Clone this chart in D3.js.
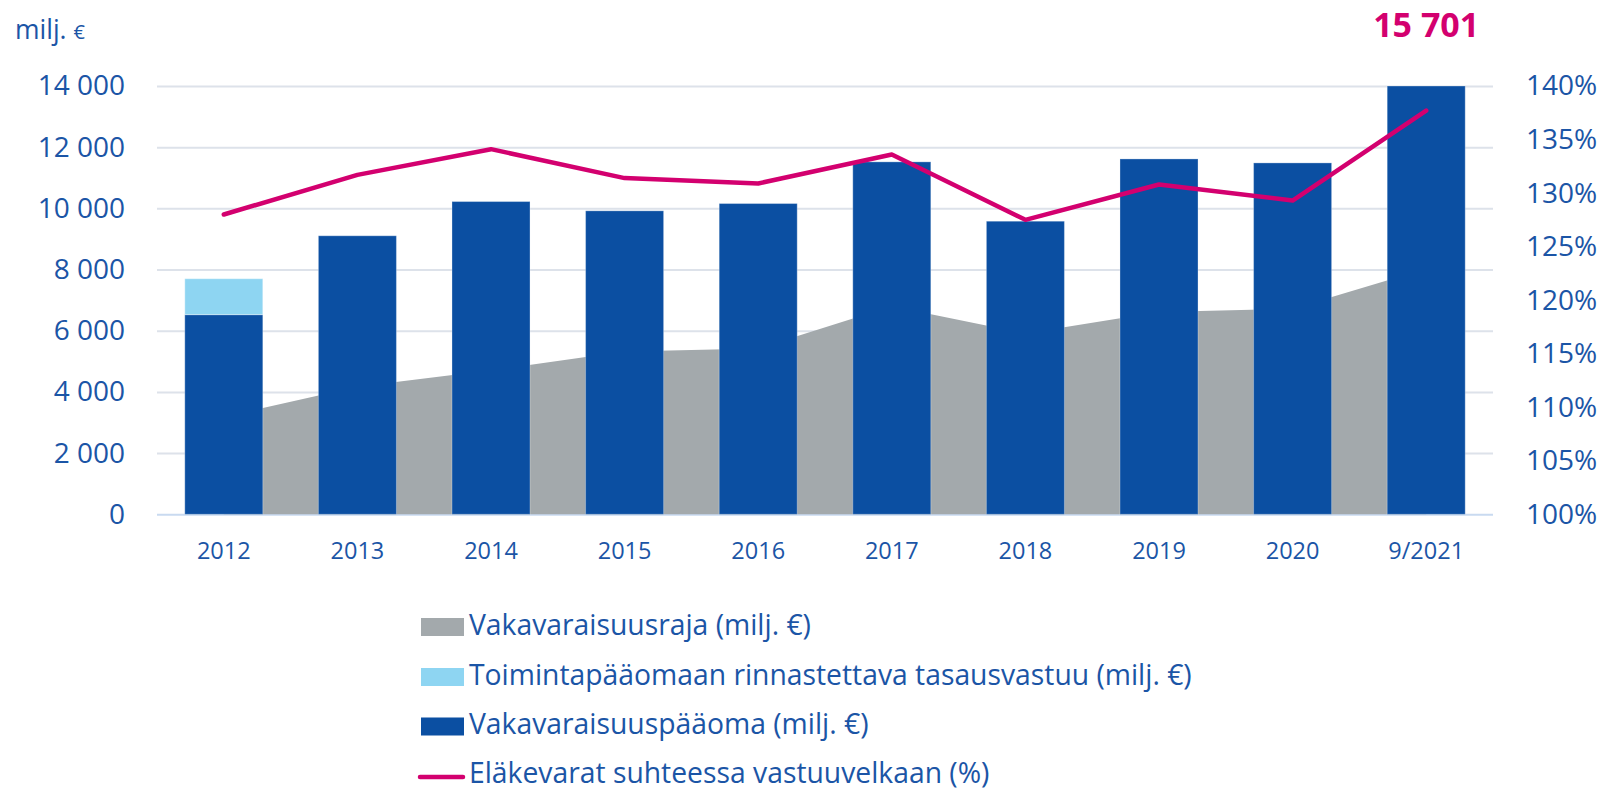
<!DOCTYPE html>
<html>
<head>
<meta charset="utf-8">
<script src="https://cdn.jsdelivr.net/npm/d3@7"></script>
<style>
  html, body { margin: 0; padding: 0; background: #fff; }
  svg { display: block; font-family: "Open Sans", "Noto Sans", sans-serif; }
</style>
</head>
<body>
<svg id="chart" width="1604" height="793"></svg>
<script>
// ---- data ----
const categories = ["2012", "2013", "2014", "2015", "2016", "2017", "2018", "2019", "2020", "9/2021"];
const solvencyCapital = [6526, 9104, 10223, 9920, 10158, 11520, 9580, 11616, 11486, 15701];
const equalisationProvision = [1175, 0, 0, 0, 0, 0, 0, 0, 0, 0];
const solvencyLimit = [3190, 4170, 4705, 5320, 5420, 6800, 5910, 6612, 6715, 8030];
const solvencyRatio = [128.0, 131.7, 134.1, 131.4, 130.9, 133.6, 127.5, 130.8, 129.3, 137.7];
const leftTicks = [0, 2000, 4000, 6000, 8000, 10000, 12000, 14000];
const rightTicks = [100, 105, 110, 115, 120, 125, 130, 135, 140];
const legendLabels = [
  "Vakavaraisuusraja (milj. €)",
  "Toimintapääomaan rinnastettava tasausvastuu (milj. €)",
  "Vakavaraisuuspääoma (milj. €)",
  "Eläkevarat suhteessa vastuuvelkaan (%)"
];
const unitLabel = "milj.";
const highlightValue = 15701;

// ---- styles ----
const C = {
  dark: "#0b4fa2", light: "#8ed5f2", gray: "#a3a9ac", line: "#d3006f",
  text: "#1b55a6", grid: "#dde2ea", base: "#c9daf0"
};

const svg = d3.select("#chart");
const pLeft = 157, pRight = 1493, pTop = 86, pBottom = 514.3;

const x = d3.scaleBand().domain(categories).range([pLeft, pRight])
  .paddingInner(0.416).paddingOuter(0.208);
const y = d3.scaleLinear().domain([0, 14000]).range([pBottom, pTop]).clamp(true);
const y2 = d3.scaleLinear().domain([100, 140]).range([pBottom, pTop]);

const loc = d3.formatLocale({ decimal: ",", thousands: "\u00a0", grouping: [3], currency: ["", "€"] });
const fmt = loc.format(",");

// gridlines
const grid = svg.append("g").attr("transform", `translate(${pLeft},0)`)
  .call(d3.axisLeft(y).tickValues(leftTicks).tickSize(-(pRight - pLeft)).tickFormat(""));
grid.select(".domain").remove();
grid.selectAll(".tick line").attr("stroke", d => d === 0 ? C.base : C.grid).attr("stroke-width", 2);

// area (solvency limit)
const bw = x.bandwidth();
const area = d3.area()
  .x((d, i) => x(categories[i]) + bw / 2)
  .y0(y(0)).y1(d => y(d));
svg.append("path").datum(solvencyLimit).attr("d", area).attr("fill", C.gray);

// bars
svg.append("g").selectAll("rect").data(solvencyCapital).join("rect")
  .attr("x", (d, i) => x(categories[i]))
  .attr("width", bw)
  .attr("y", d => y(d))
  .attr("height", d => y(0) - y(d))
  .attr("fill", C.dark)
  .attr("stroke", "rgba(255,255,255,0.3)").attr("stroke-width", 1);

svg.append("g").selectAll("rect").data(equalisationProvision).join("rect")
  .filter(d => d > 0)
  .attr("x", (d, i) => x(categories[i]))
  .attr("width", bw)
  .attr("y", (d, i) => y(solvencyCapital[i] + d))
  .attr("height", (d, i) => y(solvencyCapital[i]) - y(solvencyCapital[i] + d))
  .attr("fill", C.light)
  .attr("stroke", "rgba(255,255,255,0.4)").attr("stroke-width", 1);

// line
const line = d3.line()
  .x((d, i) => x(categories[i]) + bw / 2)
  .y(d => y2(d));
svg.append("path").datum(solvencyRatio).attr("d", line)
  .attr("fill", "none").attr("stroke", C.line).attr("stroke-width", 4.5)
  .attr("stroke-linejoin", "round").attr("stroke-linecap", "round");

// left axis
const ya = svg.append("g").attr("transform", `translate(${pLeft},0)`)
  .call(d3.axisLeft(y).tickValues(leftTicks).tickSize(0).tickPadding(32).tickFormat(fmt));
ya.select(".domain").remove();
ya.selectAll("text").attr("fill", C.text).style("font-size", "28px").style("font-family", "'Open Sans'");

// right axis
const yr = svg.append("g").attr("transform", `translate(${pRight},0)`)
  .call(d3.axisRight(y2).tickValues(rightTicks).tickSize(0).tickPadding(33).tickFormat(d => d + "%"));
yr.select(".domain").remove();
yr.selectAll("text").attr("fill", C.text).style("font-size", "28px").style("font-family", "'Open Sans'");

// bottom axis
const xa = svg.append("g").attr("transform", `translate(0,${pBottom})`)
  .call(d3.axisBottom(x).tickSize(0).tickPadding(28));
xa.select(".domain").remove();
xa.selectAll("text").attr("fill", C.text).style("font-size", "23.5px").style("font-family", "'Open Sans'");

// unit label
const ul = svg.append("text").attr("x", 15).attr("y", 39).attr("fill", C.text)
  .style("font-size", "26.5px");
ul.append("tspan").text(unitLabel + " ");
ul.append("tspan").style("font-size", "20px").text("€");

// highlight value
const lastCat = categories[categories.length - 1];
svg.append("text").attr("x", x(lastCat) + bw / 2).attr("y", 36.5)
  .attr("text-anchor", "middle").attr("fill", C.line)
  .style("font-size", "34px").style("font-weight", "700")
  .text(fmt(highlightValue));

// legend
const legendY = [627, 677, 726.5, 777];
const lg = svg.append("g");
const sw = [C.gray, C.light, C.dark];
legendLabels.forEach((lab, i) => {
  const cy = legendY[i];
  if (i < 3) {
    lg.append("rect").attr("x", 421).attr("y", cy - 9).attr("width", 43).attr("height", 18).attr("fill", sw[i]);
  } else {
    lg.append("line").attr("x1", 420).attr("x2", 463).attr("y1", cy).attr("y2", cy)
      .attr("stroke", C.line).attr("stroke-width", 4.5).attr("stroke-linecap", "round");
  }
  lg.append("text").attr("x", 469).attr("y", cy + (i === 3 ? 5.5 : 7.5))
    .attr("fill", C.text).style("font-size", "28.3px").text(lab);
});
</script>
</body>
</html>
